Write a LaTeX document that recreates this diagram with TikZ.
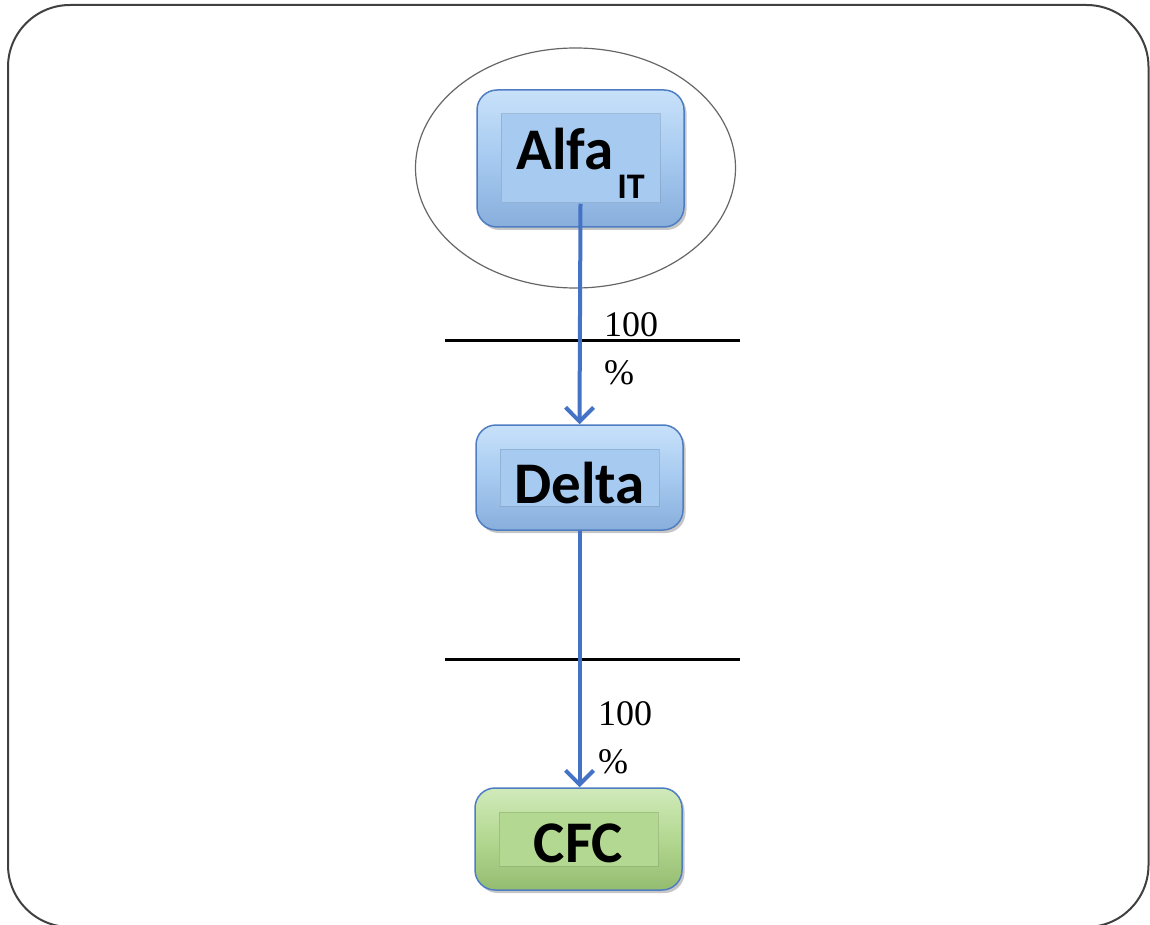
\documentclass[tikz,border=0pt]{standalone}
\usepackage{fontspec}
\setmainfont{Liberation Serif}
\newfontfamily\boxfont{Carlito}
\usetikzlibrary{arrows.meta,shadows}

\definecolor{boxblue}{RGB}{166,202,240}
\definecolor{boxbluetop}{RGB}{200,225,250}
\definecolor{boxbluedark}{RGB}{136,174,220}
\definecolor{boxgreen}{RGB}{179,216,145}
\definecolor{boxgreentop}{RGB}{208,234,186}
\definecolor{boxgreendark}{RGB}{148,188,112}
\definecolor{rimblue}{RGB}{79,125,193}
\definecolor{flowblue}{RGB}{68,114,196}

\begin{document}
\begin{tikzpicture}[x=1pt,y=-1pt,
    entity/.style={draw=rimblue, line width=1.5pt, rounded corners=20pt,
        minimum width=207pt, inner sep=0pt,
        font=\boxfont\bfseries\fontsize{59}{60}\selectfont,
        drop shadow={shadow xshift=2.5pt, shadow yshift=-3pt, opacity=0.45}},
    inset/.style={path picture={
        \draw[sharp corners, line width=1pt, draw=#1!75!black, draw opacity=0.45, fill=#1]
            ([shift={(24pt,-24pt)}]path picture bounding box.north west)
            rectangle ([shift={(-24pt,24pt)}]path picture bounding box.south east);}},
    bluebox/.style={entity, top color=boxbluetop, bottom color=boxbluedark,
        middle color=boxblue, inset=boxblue},
    greenbox/.style={entity, top color=boxgreentop, bottom color=boxgreendark,
        middle color=boxgreen, inset=boxgreen},
    flow/.style={draw=flowblue, line width=4pt, -{Straight Barb[length=14pt,width=28pt]}},
    cut/.style={line width=3pt},
    pct/.style={anchor=north west, inner sep=0pt, align=left,
        font=\fontsize{36}{48}\selectfont}]

    \useasboundingbox (0,0) rectangle (1150,925);

    % Outer frame
    \draw[line width=2pt, black!75, rounded corners=62pt] (8,5) rectangle (1148.5,927);

    % Ring round the top company
    \draw[black!60, line width=1.2pt] (575.5,168) ellipse [x radius=160pt, y radius=120pt];

    % Companies
    \node[bluebox, minimum height=137pt, text height=52pt, text depth=29pt] (alfa) at (580.5,158.5)
        {Alfa\hspace{4pt}\raisebox{-29pt}{\fontsize{36}{36}\selectfont IT}};
    \node[bluebox, minimum height=105pt, text height=51pt, text depth=0pt] (delta) at (579.5,477.5) {Delta};
    \node[greenbox, minimum height=102pt, text height=46pt, text depth=0pt] (cfc) at (578.5,839) {CFC};

    % Cut lines
    \coordinate (cut1w) at (445,340);
    \coordinate (cut1e) at (740,340);
    \coordinate (cut2w) at (445,659);
    \coordinate (cut2e) at (740,659);
    \draw[cut] (cut1w) -- (cut1e);
    \draw[cut] (cut2w) -- (cut2e);

    % Shareholdings
    \coordinate (alfa-rim) at ([yshift=24pt]alfa.south);
    \draw[flow] (alfa-rim) -- (delta.north);
    \draw[flow] (delta.south) -- (delta.south |- cfc.north);

    \node[pct] (share1) at (604,312) {100\\\%};
    \node[pct] (share2) at (598,701) {100\\\%};

\end{tikzpicture}
\end{document}
